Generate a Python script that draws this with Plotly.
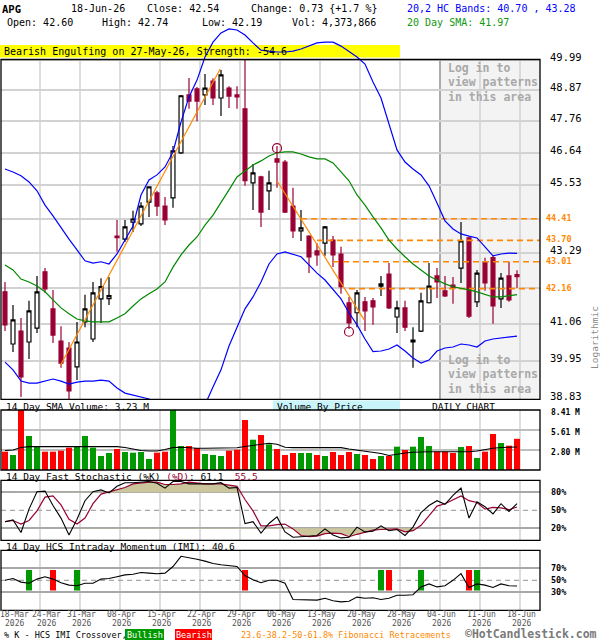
import math
from datetime import datetime
import plotly.graph_objects as go

# ---------------- data ----------------
ticker = "APG"
dates = [
 "2026-03-18","2026-03-19","2026-03-20","2026-03-23","2026-03-24","2026-03-25","2026-03-26","2026-03-27","2026-03-30","2026-03-31",
 "2026-04-01","2026-04-02","2026-04-06","2026-04-07","2026-04-08","2026-04-09","2026-04-10","2026-04-13","2026-04-14","2026-04-15",
 "2026-04-16","2026-04-17","2026-04-20","2026-04-21","2026-04-22","2026-04-23","2026-04-24","2026-04-27","2026-04-28","2026-04-29",
 "2026-04-30","2026-05-01","2026-05-04","2026-05-05","2026-05-06","2026-05-07","2026-05-08","2026-05-11","2026-05-12","2026-05-13",
 "2026-05-14","2026-05-15","2026-05-18","2026-05-19","2026-05-20","2026-05-21","2026-05-22","2026-05-26","2026-05-27","2026-05-28",
 "2026-05-29","2026-06-01","2026-06-02","2026-06-03","2026-06-04","2026-06-05","2026-06-08","2026-06-09","2026-06-10","2026-06-11",
 "2026-06-12","2026-06-15","2026-06-16","2026-06-17","2026-06-18"]

open_ = [42.06, 40.46, 40.85, 40.52, 40.94, 42.69, 41.53, 40.55, 40.34, 39.78,
         41.13, 40.61, 41.84, 41.85, 43.84, 43.74, 44.30, 44.24, 44.96, 45.27,
         44.83, 45.10, 46.64, 48.69, 48.91, 48.69, 49.19, 48.58, 48.94, 48.69,
         48.19, 45.61, 45.81, 45.34, 46.43, 46.32, 44.83, 44.01, 43.84, 43.36,
         43.61, 43.71, 43.26, 41.72, 41.41, 41.75, 41.78, 42.24, 42.62, 41.28,
         41.56, 40.52, 40.85, 41.72, 42.56, 42.09, 42.27, 42.81, 43.78, 41.75,
         43.01, 43.14, 41.84, 42.56, 42.60]
high = [42.37, 41.65, 41.25, 41.78, 42.56, 42.81, 42.12, 41.00, 40.52, 41.13,
        41.97, 42.37, 42.49, 42.53, 44.37, 44.37, 44.67, 44.96, 45.48, 45.34,
        45.13, 46.88, 48.69, 49.31, 48.98, 49.45, 49.30, 49.60, 49.01, 49.01,
        49.97, 46.25, 45.85, 46.02, 46.88, 46.39, 45.44, 44.70, 43.87, 43.61,
        44.17, 43.84, 43.49, 41.90, 42.12, 41.90, 41.87, 42.56, 42.97, 41.78,
        41.78, 40.97, 42.03, 42.97, 42.81, 42.56, 42.53, 44.30, 43.81, 42.75,
        43.14, 43.23, 42.65, 43.01, 42.74]
low = [40.85, 40.22, 38.90, 40.01, 40.79, 42.03, 40.49, 39.75, 38.81, 39.39,
       40.97, 40.52, 41.10, 41.65, 43.33, 43.65, 43.97, 44.17, 44.47, 44.50,
       44.20, 44.77, 46.60, 48.19, 47.75, 48.33, 48.33, 47.93, 48.22, 48.19,
       45.51, 44.70, 44.14, 44.70, 45.44, 44.60, 43.78, 43.68, 42.65, 42.88,
       43.20, 42.84, 42.00, 40.91, 40.97, 40.85, 41.04, 41.93, 41.53, 40.79,
       40.85, 39.75, 40.82, 41.70, 41.87, 41.90, 41.69, 42.34, 41.25, 41.59,
       42.09, 41.07, 41.56, 41.75, 42.19]
close = [41.04, 41.19, 39.48, 41.47, 42.06, 42.15, 40.73, 39.89, 39.07, 40.52,
         41.53, 42.03, 42.22, 41.94, 43.79, 44.14, 44.40, 44.83, 45.47, 44.83,
         44.37, 46.71, 48.66, 48.47, 48.47, 48.94, 48.58, 49.42, 48.65, 48.62,
         45.68, 45.95, 44.63, 45.61, 46.32, 44.63, 44.01, 44.11, 43.17, 43.23,
         44.14, 43.23, 42.22, 41.10, 42.03, 41.47, 41.59, 42.31, 41.56, 41.56,
         40.97, 40.58, 41.78, 42.24, 42.37, 41.93, 42.18, 43.68, 41.31, 42.65,
         42.34, 41.62, 42.49, 41.81, 42.54]

band_upper = [46.08, 45.98, 45.85, 45.64, 45.34, 44.86, 44.50, 44.11, 43.74, 43.39,
              43.04, 42.97, 43.01, 42.94, 43.26, 43.71, 44.17, 45.20, 45.71, 45.88,
              46.15, 46.67, 47.72, 48.62, 49.23, 50.08, 50.64, 50.99, 51.14, 51.10,
              50.91, 50.61, 50.34, 50.30, 50.27, 50.27, 50.30, 50.38, 50.49, 50.61,
              50.64, 50.64, 50.49, 50.27, 50.08, 49.82, 49.16, 48.58, 47.62, 46.74,
              46.32, 46.08, 45.88, 45.51, 44.93, 44.34, 44.07, 43.91, 43.84, 43.78,
              43.49, 43.20, 43.26, 43.29, 43.28]
band_lower = [39.92, 39.69, 39.36, 39.30, 39.30, 39.36, 39.42, 39.36, 39.27, 39.33,
              39.36, 39.36, 39.39, 39.36, 39.16, 39.01, 38.95, 38.90, 38.84, 38.70,
              38.47, 38.24, 38.10, 38.10, 38.30, 38.67, 39.19, 39.69, 40.40, 40.94,
              41.53, 41.90, 42.37, 42.94, 43.26, 43.33, 43.26, 43.17, 42.91, 42.65,
              42.43, 42.12, 41.84, 41.41, 41.04, 40.61, 40.23, 40.25, 40.31, 40.43,
              40.25, 40.04, 39.89, 39.98, 40.25, 40.34, 40.37, 40.46, 40.43, 40.37,
              40.55, 40.61, 40.64, 40.67, 40.70]
sma20 = [42.91, 42.75, 42.46, 42.37, 42.24, 42.06, 41.81, 41.56, 41.38, 41.22,
         41.16, 41.13, 41.13, 41.13, 41.25, 41.38, 41.62, 41.84, 42.00, 42.15,
         42.37, 42.84, 43.23, 43.55, 43.81, 44.20, 44.53, 44.93, 45.37, 45.81,
         46.02, 46.22, 46.36, 46.53, 46.64, 46.67, 46.67, 46.60, 46.50, 46.43,
         46.43, 46.29, 45.98, 45.68, 45.20, 44.86, 44.47, 44.11, 43.71, 43.42,
         43.17, 42.94, 42.75, 42.56, 42.43, 42.31, 42.22, 42.18, 42.12, 42.06,
         41.97, 41.90, 41.90, 41.94, 41.97]

volume_m = [2.57, 2.10, 8.60, 4.77, 3.27, 2.57, 2.57, 2.71, 3.13, 3.27,
            4.77, 3.13, 1.96, 2.38, 2.94, 2.52, 2.43, 2.52, 1.54, 2.43,
            2.57, 8.60, 3.36, 3.36, 3.08, 2.24, 2.10, 1.96, 2.71, 2.85,
            7.01, 4.25, 4.91, 3.60, 2.94, 2.10, 2.38, 2.38, 2.38, 2.10,
            1.96, 2.52, 2.10, 2.52, 2.24, 2.10, 1.54, 1.96, 1.96, 3.27,
            2.80, 3.27, 4.63, 3.36, 2.57, 2.57, 2.38, 3.22, 3.36, 1.68,
            2.57, 5.05, 3.78, 3.41, 4.373866]
volume_up = [0, 1, 0, 1, 1, 0, 0, 0, 0, 1,
             1, 1, 1, 1, 0, 1, 1, 1, 1, 0,
             0, 1, 1, 0, 0, 1, 1, 1, 0, 0,
             0, 1, 0, 1, 0, 0, 0, 1, 1, 0,
             1, 0, 0, 0, 1, 0, 0, 1, 0, 1,
             0, 1, 1, 1, 0, 0, 0, 1, 0, 1,
             0, 0, 1, 0, 0]
volume_sma_m = [2.73, 2.80, 3.15, 3.27, 3.27, 3.27, 3.27, 3.27, 3.27, 3.27,
                3.27, 3.27, 3.27, 3.27, 3.27, 3.15, 2.94, 2.73, 2.66, 2.66,
                2.87, 3.15, 3.18, 3.08, 3.04, 3.04, 3.04, 3.04, 3.04, 3.11,
                3.30, 3.43, 3.57, 3.74, 3.60, 3.18, 3.13, 3.13, 3.13, 3.13,
                3.13, 3.13, 3.13, 2.94, 2.80, 2.66, 2.52, 2.31, 2.03, 2.24,
                2.38, 2.48, 2.55, 2.55, 2.55, 2.55, 2.55, 2.55, 2.55, 2.66,
                2.87, 3.04, 3.15, 3.22, 3.23]

stoch_k = [31, 34, 13, 52, 81, 82, 58, 37, 9, 35,
           66, 81, 84, 79, 90, 96, 96, 97, 98, 95,
           87, 98, 98, 94, 94, 93, 94, 96, 87, 88,
           28, 31, 12, 28, 39, 14, 5, 6, 7, 8,
           19, 9, 4, 5, 22, 14, 15, 24, 16, 18,
           8, 22, 46, 58, 66, 60, 75, 87, 37, 64,
           56, 44, 61, 48, 61.1]
stoch_d = [31, 33, 27, 33, 49, 72, 74, 59, 35, 27,
           37, 61, 77, 81, 84, 88, 94, 96, 97, 97,
           93, 93, 94, 97, 95, 94, 94, 94, 92, 90,
           68, 49, 24, 24, 26, 27, 19, 8, 6, 7,
           11, 12, 11, 6, 10, 14, 17, 18, 18, 19,
           14, 16, 25, 42, 57, 61, 67, 74, 66, 63,
           52, 55, 54, 51, 55.5]
imi = [50, 53, 47, 45, 52, 56, 52, 46, 42, 41,
       45, 45, 52, 53, 56, 59, 60, 63, 62, 61,
       62, 73, 90, 88, 85, 82, 78, 76, 75, 73,
       58, 51, 46, 50, 50, 45, 18, 18, 18, 17,
       20, 16, 14, 15, 22, 20, 21, 18, 20, 25,
       25, 26, 39, 44, 39, 41, 50, 61, 38, 44,
       42, 38, 44, 41, 40.6]
imi_bullish = ["2026-03-23", "2026-03-31", "2026-05-26", "2026-06-02", "2026-06-11"]
imi_bearish = ["2026-03-26", "2026-04-30", "2026-05-27", "2026-06-10"]

price_ticks = [49.99, 48.87, 47.76, 46.64, 45.53, 44.41, 43.29, 42.18, 41.06, 39.95, 38.83]
price_tick_labels = ["49.99", "48.87", "47.76", "46.64", "45.53", "", "43.29", "", "41.06", "39.95", "38.83"]
fib_levels = [44.41, 43.70, 43.01, 42.16]
fib_start = ["2026-05-11", "2026-05-13", "2026-05-15", "2026-05-19"]
trend_up = {"x": [6.9, 26.9], "y": [39.81, 49.64]}
trend_down = {"x": [34.0, 44.9], "y": [45.68, 41.19]}
pivot_dates = ["2026-05-06", "2026-05-19"]
pivot_prices = [46.80, 40.83]
pattern_dates = ["2026-05-26", "2026-05-27"]
vbp_edges = [38.83, 39.95, 41.06, 42.18, 43.29, 44.41, 45.53, 46.64, 47.76, 48.87, 49.99]
vbp_volume = [7.2, 7.1, 29.0, 16.9, 9.0, 7.9, 8.9, 4.3, 8.5, 2.1]
vol_ticks_m = [8.41, 5.61, 2.80]
stoch_ticks = [80, 50, 20]
imi_ticks = [70, 50, 30]
axis_label_dates = ["2026-03-18", "2026-03-24", "2026-03-31", "2026-04-08", "2026-04-15", "2026-04-22",
                    "2026-04-29", "2026-05-06", "2026-05-13", "2026-05-20", "2026-05-28", "2026-06-04",
                    "2026-06-11", "2026-06-18"]
login_from = "2026-06-04"

# ---------------- layout helpers ----------------
W, H = 600, 640
MONO = "DejaVu Sans Mono"
MAROON = "#990033"
ORANGE = "#ff8800"
GRID = "#d2d2d2"
idx = list(range(len(dates)))
pos = {d: i for i, d in enumerate(dates)}

def pxx(x):
    return x / W

def pxy(y):
    return 1 - y / H

X_LEFT_PX, X_RIGHT_PX, X0_PX, STEP_PX = 1.0, 540.0, 5.0, 8.0
x_range = [(X_LEFT_PX - X0_PX) / STEP_PX, (X_RIGHT_PX - X0_PX) / STEP_PX]
GRID_OFF = 3.0 / STEP_PX

P_TOP, P_BOT = 59.5, 399.3
PX_PER_LN = (P_BOT - P_TOP) / math.log(price_ticks[0] / price_ticks[-1])
PLOT_TOP_PX = 22.0
top_val = price_ticks[0] * math.exp((P_TOP - PLOT_TOP_PX) / PX_PER_LN)
V_TOP, V_BOT = 410.0, 470.0
S_TOP, S_BOT = 480.3, 540.3
I_TOP, I_BOT = 550.3, 610.3

fig = go.Figure()

# ---------------- price panel ----------------
for lvl, sd in zip(fib_levels, fib_start):
    fig.add_trace(go.Scatter(x=[pos[sd], x_range[1]], y=[lvl, lvl], mode="lines",
                             line=dict(color=ORANGE, width=1.6, dash="6px,4px"),
                             xaxis="x", yaxis="y", hoverinfo="skip"))

fig.add_trace(go.Candlestick(
    x=idx, open=open_, high=high, low=low, close=close,
    increasing=dict(line=dict(color="black", width=1.2), fillcolor="white"),
    decreasing=dict(line=dict(color=MAROON, width=1.2), fillcolor=MAROON),
    whiskerwidth=0, xaxis="x", yaxis="y", hoverinfo="skip"))

fig.add_trace(go.Scatter(x=idx, y=band_upper, mode="lines", line=dict(color="#0000ff", width=1.2),
                         xaxis="x", yaxis="y", hoverinfo="skip"))
fig.add_trace(go.Scatter(x=idx, y=band_lower, mode="lines", line=dict(color="#0000ff", width=1.2),
                         xaxis="x", yaxis="y", hoverinfo="skip"))
fig.add_trace(go.Scatter(x=idx, y=sma20, mode="lines", line=dict(color="#008800", width=1.2),
                         xaxis="x", yaxis="y", hoverinfo="skip"))
for tl in (trend_up, trend_down):
    fig.add_trace(go.Scatter(x=tl["x"], y=tl["y"], mode="lines", line=dict(color=ORANGE, width=1.2),
                             xaxis="x", yaxis="y", hoverinfo="skip"))
fig.add_trace(go.Scatter(x=[pos[d] for d in pivot_dates], y=pivot_prices, mode="markers",
                         marker=dict(symbol="circle-open", size=9, color=MAROON, line=dict(width=1.2)),
                         xaxis="x", yaxis="y", hoverinfo="skip"))

# ---------------- volume panel ----------------
fig.add_trace(go.Bar(x=idx, y=[v * 1e6 for v in volume_m], width=0.75,
                     marker=dict(color=["#009900" if u else "#ff0000" for u in volume_up], line=dict(width=0)),
                     xaxis="x2", yaxis="y2", hoverinfo="skip"))
fig.add_trace(go.Scatter(x=idx, y=[v * 1e6 for v in volume_sma_m], mode="lines",
                         line=dict(color="black", width=1.1), xaxis="x2", yaxis="y2", hoverinfo="skip"))

# ---------------- stochastic panel ----------------
def clipped_poly(xs, ys, level, above):
    px_, py_ = [], []
    for j in range(len(xs)):
        if j > 0 and (ys[j - 1] - level) * (ys[j] - level) < 0:
            t = (level - ys[j - 1]) / (ys[j] - ys[j - 1])
            px_.append(xs[j - 1] + t * (xs[j] - xs[j - 1]))
            py_.append(level)
        v = max(ys[j], level) if above else min(ys[j], level)
        px_.append(xs[j])
        py_.append(v)
    return px_ + [px_[-1], px_[0]], py_ + [level, level]

for lvl, above in ((80, True), (20, False)):
    fx, fy = clipped_poly(idx, stoch_d, lvl, above)
    fig.add_trace(go.Scatter(x=fx, y=fy, mode="lines", fill="toself", fillcolor="#cbc69c",
                             line=dict(width=0), xaxis="x3", yaxis="y3", hoverinfo="skip"))
fig.add_trace(go.Scatter(x=idx, y=stoch_d, mode="lines", line=dict(color=MAROON, width=1.2),
                         xaxis="x3", yaxis="y3", hoverinfo="skip"))
fig.add_trace(go.Scatter(x=idx, y=stoch_k, mode="lines", line=dict(color="black", width=1.1),
                         xaxis="x3", yaxis="y3", hoverinfo="skip"))

# ---------------- IMI panel ----------------
for lst, col in ((imi_bullish, "#009900"), (imi_bearish, "#ff0000")):
    fig.add_trace(go.Bar(x=[pos[d] for d in lst], y=[34] * len(lst), base=[33] * len(lst), width=0.75,
                         marker=dict(color=col, line=dict(width=0)),
                         xaxis="x4", yaxis="y4", hoverinfo="skip"))
fig.add_trace(go.Scatter(x=idx, y=imi, mode="lines", line=dict(color="black", width=1.1),
                         xaxis="x4", yaxis="y4", hoverinfo="skip"))

# ---------------- axes ----------------
xdom = [pxx(X_LEFT_PX), pxx(X_RIGHT_PX)]
common_x = dict(domain=xdom, range=x_range, visible=False, fixedrange=True)
layout = dict(
    width=W, height=H, margin=dict(l=0, r=0, t=0, b=0),
    paper_bgcolor="white", plot_bgcolor="rgba(0,0,0,0)", showlegend=False,
    barmode="overlay",
    xaxis=dict(common_x, anchor="y", rangeslider=dict(visible=False)),
    xaxis2=dict(common_x, anchor="y2"),
    xaxis3=dict(common_x, anchor="y3"),
    xaxis4=dict(common_x, anchor="y4"),
    yaxis=dict(domain=[pxy(P_BOT), pxy(PLOT_TOP_PX)], type="log",
               range=[math.log10(price_ticks[-1]), math.log10(top_val)],
               tickvals=price_ticks, showticklabels=False, showgrid=True, gridcolor=GRID,
               gridwidth=1.5, zeroline=False, showline=False, anchor="x", fixedrange=True),
    yaxis2=dict(domain=[pxy(V_BOT), pxy(V_TOP)], range=[0, vol_ticks_m[0] * 1e6],
                tickvals=[v * 1e6 for v in vol_ticks_m[1:]], showticklabels=False, showgrid=True,
                gridcolor="#bdbdbd", gridwidth=1.5, zeroline=False, anchor="x2", fixedrange=True),
    yaxis3=dict(domain=[pxy(S_BOT), pxy(S_TOP)], range=[0, 100], tickvals=[20, 80],
                showticklabels=False, showgrid=True, gridcolor="#a8a8a8", gridwidth=1.5,
                zeroline=False, anchor="x3", fixedrange=True),
    yaxis4=dict(domain=[pxy(I_BOT), pxy(I_TOP)], range=[0, 100], tickvals=[30, 70],
                showticklabels=False, showgrid=True, gridcolor="#a8a8a8", gridwidth=1.5,
                zeroline=False, anchor="x4", fixedrange=True),
)
fig.update_layout(**layout)

# ---------------- shapes ----------------
shapes = []
gx0 = pos[login_from] + GRID_OFF
shapes.append(dict(type="rect", xref="x", yref="paper", x0=gx0, x1=x_range[1], y0=pxy(P_BOT), y1=pxy(P_TOP),
                   fillcolor="#f3f3f3", line=dict(width=0), layer="below"))
grid_x = [pos[d] + GRID_OFF for d in axis_label_dates[1:]]
for top, bot in ((P_TOP, P_BOT), (V_TOP, V_BOT), (S_TOP, S_BOT), (I_TOP, I_BOT)):
    for gx in grid_x:
        shapes.append(dict(type="line", xref="x", yref="paper", x0=gx, x1=gx, y0=pxy(bot), y1=pxy(top),
                           line=dict(color=GRID, width=1.5), layer="below"))
shapes.append(dict(type="line", xref="x", yref="paper", x0=gx0, x1=gx0, y0=pxy(P_BOT), y1=pxy(P_TOP),
                   line=dict(color="#9a9a9a", width=1.5), layer="below"))
vmax = max(vbp_volume)
VBP_MAX_PX = 290.0
for k, v in enumerate(vbp_volume):
    shapes.append(dict(type="rect", xref="x", yref="y", x0=x_range[0], x1=x_range[0] + v / vmax * VBP_MAX_PX / STEP_PX,
                       y0=math.log10(vbp_edges[k]), y1=math.log10(vbp_edges[k + 1]),
                       fillcolor="#c8f4fa", line=dict(width=0), layer="below"))
for d in pattern_dates:
    i = pos[d]
    shapes.append(dict(type="rect", xref="x", yref="y", x0=i - 0.62, x1=i + 0.62,
                       y0=math.log10(low[i] * 0.9975), y1=math.log10(high[i] * 1.0025),
                       fillcolor="#ffff00", line=dict(width=0), layer="between"))
shapes.append(dict(type="rect", xref="paper", yref="paper", x0=0, x1=pxx(400), y0=pxy(57.5), y1=pxy(45),
                   fillcolor="#ffff00", line=dict(width=0), layer="below"))
shapes.append(dict(type="rect", xref="paper", yref="paper", x0=pxx(273), x1=pxx(400), y0=pxy(410), y1=pxy(400.5),
                   fillcolor="#c8f4fa", line=dict(width=0), layer="below"))
for top, bot in ((S_TOP, S_BOT), (I_TOP, I_BOT)):
    ym = pxy((top + bot) / 2)
    shapes.append(dict(type="line", xref="paper", yref="paper", x0=xdom[0], x1=xdom[1], y0=ym, y1=ym,
                       line=dict(color="#a8a8a8", width=1.3, dash="5px,4px"), layer="below"))
for top, bot in ((P_TOP, P_BOT), (V_TOP, V_BOT), (S_TOP, S_BOT), (I_TOP, I_BOT)):
    shapes.append(dict(type="rect", xref="paper", yref="paper", x0=xdom[0], x1=xdom[1], y0=pxy(bot), y1=pxy(top),
                       line=dict(color="black", width=1.3), layer="above"))
shapes.append(dict(type="rect", xref="paper", yref="paper", x0=pxx(125), x1=pxx(164), y0=pxy(640), y1=pxy(629),
                   fillcolor="#009900", line=dict(width=0)))
shapes.append(dict(type="rect", xref="paper", yref="paper", x0=pxx(175), x1=pxx(212), y0=pxy(640), y1=pxy(629),
                   fillcolor="#ff0000", line=dict(width=0)))

# ---------------- annotations ----------------
ann = []

def text(x, y, s, size=10, color="black", anchor="left", bold=False, angle=0, family=MONO):
    ann.append(dict(xref="paper", yref="paper", x=pxx(x), y=pxy(y), text=("<b>%s</b>" % s) if bold else s,
                    showarrow=False, xanchor=anchor, yanchor="middle", textangle=angle,
                    font=dict(family=family, size=size, color=color)))

last = len(dates) - 1
chg = close[last] - close[last - 1]
date_last = datetime.strptime(dates[last], "%Y-%m-%d").strftime("%d-%b-%y")
text(0, 9, ticker, 10.5, bold=True)
text(69, 9, date_last)
text(145, 9, "Close: %.2f" % close[last])
text(249, 9, "Change: %.2f {%+.1f %%}" % (chg, chg / close[last - 1] * 100))
text(405, 9, "20,2 HC Bands: %.2f , %.2f" % (band_lower[last], band_upper[last]), color="#0000ff")
text(4.5, 23, "Open: %.2f" % open_[last])
text(100, 23, "High: %.2f" % high[last])
text(200, 23, "Low: %.2f" % low[last])
text(290, 23, "Vol: {:,}".format(int(round(volume_m[last] * 1e6))))
text(405, 23, "20 Day SMA: %.2f" % sma20[last], color="#119911")
text(1.5, 51.5, "Bearish Engulfing on %s, Strength: -54.6"
     % datetime.strptime(pattern_dates[-1], "%Y-%m-%d").strftime("%d-%b-%y"))

for v, lab in zip(price_ticks, price_tick_labels):
    if lab:
        ann.append(dict(xref="paper", yref="y", x=pxx(548), y=math.log10(v), yshift=3, text=lab,
                        showarrow=False, xanchor="left", yanchor="middle",
                        font=dict(family=MONO, size=10.5, color="black")))
for v in fib_levels:
    ann.append(dict(xref="paper", yref="y", x=pxx(544), y=math.log10(v), yshift=1, text="<b>%.2f</b>" % v,
                    showarrow=False, xanchor="left", yanchor="middle",
                    font=dict(family=MONO, size=8.5, color=ORANGE)))
text(594, 338, "Logarithmic", 9.5, color="#8a8a8a", anchor="center", angle=-90)

for y0 in (67.5, 359.5):
    for k, line in enumerate(["Log in to", "view patterns", "in this area"]):
        text(446, y0 + k * 14.8, line, 11.5, color="#a9a9a9", bold=True)

text(4, 406, "14 Day SMA Volume: %.2f M" % volume_sma_m[last], 9.5)
text(275, 406, "Volume By Price", 9.5)
text(430, 406, "DAILY CHART", 9.5)
text(4, 476, "14 Day Fast Stochastic (%%K) <span style='color:%s'>(%%D)</span>: %.1f  "
     "<span style='color:%s'>%.1f</span>" % (MAROON, stoch_k[last], MAROON, stoch_d[last]), 9.5)
text(4, 546, "14 Day HCS Intraday Momentum (IMI): %.1f" % imi[last], 9.5)

for v, yy in zip(vol_ticks_m, (412, 432, 452)):
    text(549, yy, "<b>%.2f M</b>" % v, 8)
for v, yy in zip(stoch_ticks, (492.3, 510.3, 528.3)):
    text(549, yy, "<b>%d%%</b>" % v, 8.5)
for v, yy in zip(imi_ticks, (568.3, 580.3, 592.3)):
    text(549, yy, "<b>%d%%</b>" % v, 8.5)

for k, d in enumerate(axis_label_dates):
    dt = datetime.strptime(d, "%Y-%m-%d")
    if k == 0:
        xx = 14.5
    elif k == 1:
        xx = 46.5
    else:
        xx = X0_PX + STEP_PX * (pos[d] + GRID_OFF) + 1.5
    text(xx, 614.5, dt.strftime("%d-%b"), 8, color="#555555", anchor="center")
    text(xx, 623.5, dt.strftime("%Y"), 8, color="#555555", anchor="center")

text(2, 635, "% K - HCS IMI Crossover,", 8.5)
text(144.5, 634.5, "Bullish", 8.5, color="white", anchor="center")
text(193.5, 634.5, "Bearish", 8.5, color="white", anchor="center")
text(239, 635, "23.6-38.2-50-61.8% Fibonacci Retracements", 8.5, color=ORANGE)
text(463, 634, "©HotCandlestick.com", 11.5, color="#7a7a7a", bold=True)

fig.update_layout(shapes=shapes, annotations=ann)
fig.write_html("out.html", config={"displayModeBar": False},
               post_script="document.body.style.margin='0';document.body.style.overflow='hidden';")
